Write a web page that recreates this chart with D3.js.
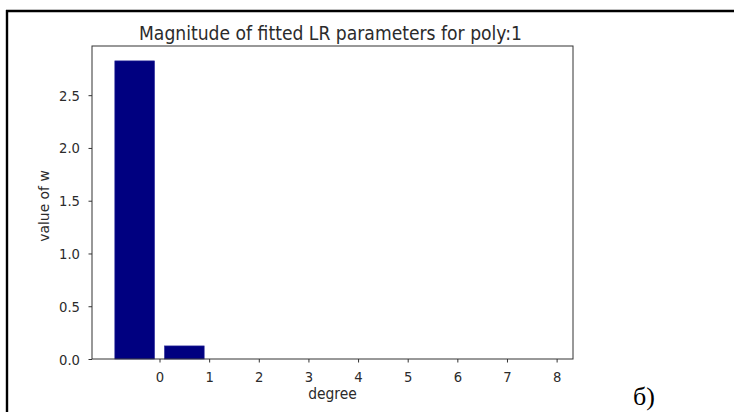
<!DOCTYPE html>
<html>
<head>
<meta charset="utf-8">
<script src="https://cdn.jsdelivr.net/npm/d3@7"></script>
<style>
  html, body { margin: 0; padding: 0; background: #fff; }
  svg { display: block; }
</style>
</head>
<body>
<svg id="chart" width="734" height="412"></svg>
<script>
// ---- data ----
const chartTitle = "Magnitude of fitted LR parameters for poly:1";
const barPositions = [-0.5, 0.5];
const barValues = [2.825, 0.124];
const xTickValues = [0, 1, 2, 3, 4, 5, 6, 7, 8];
const yTickValues = [0.0, 0.5, 1.0, 1.5, 2.0, 2.5];
const xLabel = "degree";
const yLabel = "value of w";
const panelLabel = "б)";

// ---- layout ----
const W = 734, H = 412;
const plot = { left: 92, right: 573, top: 46, bottom: 359 };
const vs = 1.13; // vertical stretch of the source image text
const textColor = "#2b2b2b";
const fontFamily = "'DejaVu Sans', sans-serif";

const svg = d3.select("#chart");

const x = d3.scaleLinear().domain([-1.36, 8.33]).range([plot.left, plot.right]);
const y = d3.scaleLinear().domain([0, 2.966]).range([plot.bottom, plot.top]);
const barWidth = 0.8;

// outer document frame (top and left rules)
svg.append("line").attr("x1", 6).attr("x2", W).attr("y1", 11).attr("y2", 11)
  .attr("stroke", "#000").attr("stroke-width", 2.4);
svg.append("line").attr("x1", 7).attr("x2", 7).attr("y1", 10).attr("y2", H)
  .attr("stroke", "#000").attr("stroke-width", 2.4);

// bars
svg.append("g").selectAll("rect")
  .data(barValues.map((v, i) => ({ pos: barPositions[i], v })))
  .join("rect")
  .attr("x", d => x(d.pos - barWidth / 2))
  .attr("width", d => x(d.pos + barWidth / 2) - x(d.pos - barWidth / 2))
  .attr("y", d => y(d.v))
  .attr("height", d => y(0) - y(d.v))
  .attr("fill", "#000080")
  .attr("stroke", "#2a2a9a")
  .attr("stroke-width", 0.6);

// axes
const xAxis = d3.axisBottom(x).tickValues(xTickValues).tickFormat(d3.format("d"))
  .tickSize(3.5).tickPadding(3).tickSizeOuter(0);
const yAxis = d3.axisLeft(y).tickValues(yTickValues).tickFormat(d3.format(".1f"))
  .tickSize(3.5).tickPadding(3).tickSizeOuter(0);

const gx = svg.append("g").attr("transform", `translate(0,${plot.bottom})`).call(xAxis);
const gy = svg.append("g").attr("transform", `translate(${plot.left},0)`).call(yAxis);

[gx, gy].forEach(g => {
  g.select(".domain").remove();
  g.selectAll(".tick line").attr("stroke", "#333").attr("stroke-width", 1);
  g.selectAll(".tick text").attr("fill", textColor)
    .attr("font-family", fontFamily).attr("font-size", 13.2);
});
gx.selectAll(".tick text")
  .attr("y", null).attr("dy", null)
  .attr("transform", `translate(0,22.5) scale(1,${vs})`);
gy.selectAll(".tick text")
  .attr("x", null).attr("dy", null)
  .attr("transform", `translate(-12,5) scale(1,${vs})`);

// spines
svg.append("rect")
  .attr("x", plot.left).attr("y", plot.top)
  .attr("width", plot.right - plot.left).attr("height", plot.bottom - plot.top)
  .attr("fill", "none").attr("stroke", "#333").attr("stroke-width", 1);

// title
svg.append("text")
  .attr("transform", `translate(${(plot.left + plot.right) / 2 - 2},40) scale(1,${vs})`)
  .attr("text-anchor", "middle")
  .attr("font-family", fontFamily).attr("font-size", 17.2)
  .attr("fill", textColor)
  .text(chartTitle);

// axis labels
svg.append("text")
  .attr("transform", `translate(${(plot.left + plot.right) / 2},399) scale(1,${vs})`)
  .attr("text-anchor", "middle")
  .attr("font-family", fontFamily).attr("font-size", 13.9)
  .attr("fill", textColor)
  .text(xLabel);

svg.append("text")
  .attr("transform", `translate(49,206) rotate(-90) scale(1,1)`)
  .attr("text-anchor", "middle")
  .attr("font-family", fontFamily).attr("font-size", 13.9)
  .attr("fill", textColor)
  .text(yLabel);

// panel label
svg.append("text")
  .attr("x", 633).attr("y", 405)
  .attr("font-family", "'Liberation Serif', 'Times New Roman', serif")
  .attr("font-size", 26)
  .attr("fill", "#000")
  .text(panelLabel);
</script>
</body>
</html>
